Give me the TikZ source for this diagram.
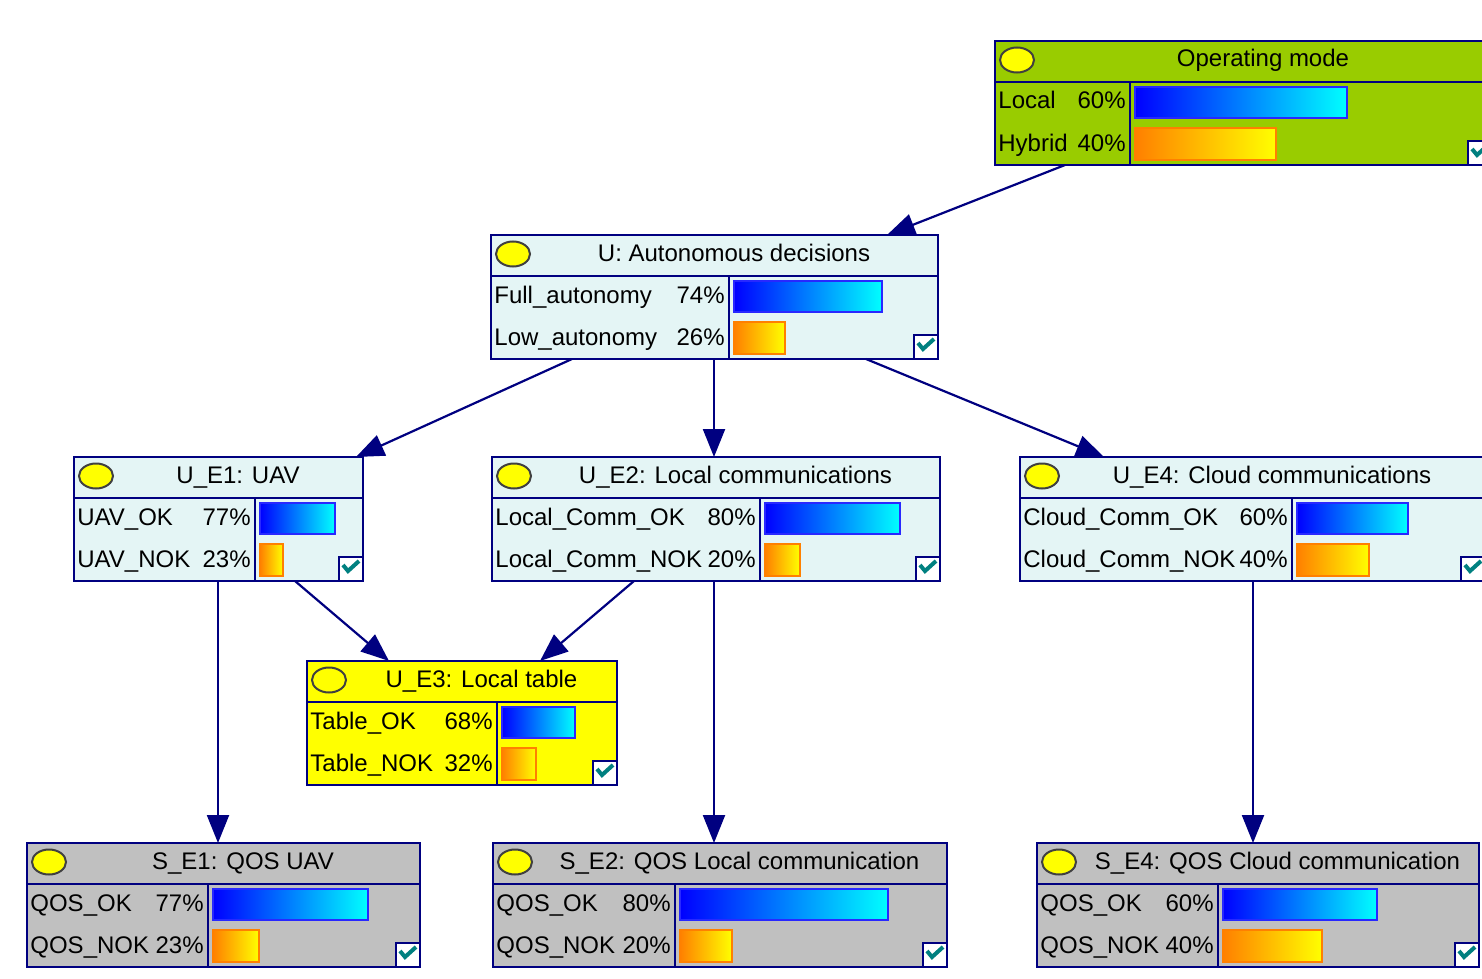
\documentclass[tikz,border=0pt]{standalone}
\usepackage{fontspec}
\setmainfont{Liberation Sans}
\usetikzlibrary{arrows.meta,fit,calc}
\definecolor{bnnavy}{RGB}{0,0,128}
\definecolor{bncyan}{RGB}{228,245,245}
\definecolor{bngray}{RGB}{192,192,192}
\definecolor{bngreen}{RGB}{153,204,0}
\definecolor{bnyellow}{RGB}{255,255,0}
\definecolor{bnteal}{RGB}{0,128,128}
\definecolor{bnorange}{RGB}{255,128,0}
\definecolor{bnblueedge}{RGB}{40,40,255}
\tikzset{
 bnbox/.style={draw=bnnavy, line width=1.2pt, inner sep=0pt, outer sep=0pt},
 bninner/.style={draw=bnnavy, line width=0.8pt},
 bnoval/.style={fill=bnyellow, draw=black!75, line width=1pt},
 bntext/.style={font=\fontsize{12}{14}\selectfont, inner sep=0pt, text=black},
 bntitle/.style={bntext, anchor=base},
 bnstate/.style={bntext, anchor=base west},
 bnpct/.style={bntext, anchor=base east},
 bnbarA/.style={left color=blue, right color=cyan, draw=bnblueedge, line width=0.6pt},
 bnbarB/.style={left color=bnorange, right color=yellow, draw=bnorange, line width=0.6pt},
 bncheckbox/.style={fill=white, draw=bnnavy, line width=1pt},
 bncheck/.style={draw=bnteal, line width=2pt},
 bnarrow/.style={draw=bnnavy, line width=1.1pt, -{Triangle[length=14pt,width=11pt]}},
}
% #1 name, #2 x0, #3 y0, #4 x1, #5 fill, #6 column x, #7 title
\newcommand\BNframe[7]{%
  \def\bncur{#1}%
  \node[bnbox, fill=#5, fit={(#2,#3) (#4,#3+124)}] (#1) {};
  \draw[bninner] (#2,#3+41) -- (#4,#3+41);
  \draw[bninner] (#6,#3+41) -- (#6,#3+124);
  \path[bnoval] (#2+22,#3+19) ellipse [x radius=8.5pt, y radius=6.25pt];
  \node[bntitle] (#1-title) at ({(#2+39+#4)/2},#3+26) {#7};
  \draw[bncheckbox] (#4-24,#3+100) rectangle (#4,#3+124);
  \draw[bncheck] (#4-20,#3+108) -- (#4-15,#3+114) -- (#4-4,#3+104);
}
% #1 x0, #2 y0, #3 column x, #4 state1, #5 pct1, #6 bar1 end, #7 state2, #8 pct2, #9 bar2 end
\newcommand\BNrows[9]{%
  \node[bnstate] (\bncur-s1) at (#1+3,#2+68) {#4};
  \node[bnpct] (\bncur-p1) at (#3-4,#2+68) {#5};
  \path[bnbarA] (#3+5,#2+46) rectangle (#6,#2+77);
  \node[bnstate] (\bncur-s2) at (#1+3,#2+110) {#7};
  \node[bnpct] (\bncur-p2) at (#3-4,#2+110) {#8};
  \path[bnbarB] (#3+5,#2+87) rectangle (#9,#2+119);
}
\begin{document}
\begin{tikzpicture}[x=0.5pt,y=-0.5pt]
\useasboundingbox (0,0) rectangle (1482,979);
\fill[white] (0,0) rectangle (1482,979);
\clip (0,0) rectangle (1482,979);

\BNframe{op}{995}{41}{1492}{bngreen}{1130}{Operating mode}
\BNrows{995}{41}{1130}{Local}{60\%}{1347}{Hybrid}{40\%}{1276}

\BNframe{u}{491}{235}{938}{bncyan}{729}{U: Autonomous decisions}
\BNrows{491}{235}{729}{Full\_autonomy}{74\%}{882}{Low\_autonomy}{26\%}{785}

\BNframe{ue1}{74}{457}{363}{bncyan}{255}{U\_E1: UAV}
\BNrows{74}{457}{255}{UAV\_OK}{77\%}{335}{UAV\_NOK}{23\%}{283}

\BNframe{ue2}{492}{457}{940}{bncyan}{760}{U\_E2: Local communications}
\BNrows{492}{457}{760}{Local\_Comm\_OK}{80\%}{900}{Local\_Comm\_NOK}{20\%}{800}

\BNframe{ue4}{1020}{457}{1485}{bncyan}{1292}{U\_E4: Cloud communications}
\BNrows{1020}{457}{1292}{Cloud\_Comm\_OK}{60\%}{1408}{Cloud\_Comm\_NOK}{40\%}{1369}

\BNframe{ue3}{307}{661}{617}{bnyellow}{497}{U\_E3: Local table}
\BNrows{307}{661}{497}{Table\_OK}{68\%}{575}{Table\_NOK}{32\%}{536}

\BNframe{se1}{27}{843}{420}{bngray}{208}{S\_E1: QOS UAV}
\BNrows{27}{843}{208}{QOS\_OK}{77\%}{368}{QOS\_NOK}{23\%}{259}

\BNframe{se2}{493}{843}{947}{bngray}{675}{S\_E2: QOS Local communication}
\BNrows{493}{843}{675}{QOS\_OK}{80\%}{888}{QOS\_NOK}{20\%}{732}

\BNframe{se4}{1037}{843}{1479}{bngray}{1218}{S\_E4: QOS Cloud communication}
\BNrows{1037}{843}{1218}{QOS\_OK}{60\%}{1377}{QOS\_NOK}{40\%}{1322}

\draw[bnarrow] ($(op.south west)+(70,0)$) -- ($(u.north west)+(396,0)$);
\draw[bnarrow] ($(u.south west)+(81,0)$) -- ($(ue1.north west)+(282,0)$);
\draw[bnarrow] ($(u.south west)+(223,0)$) -- ($(ue2.north west)+(222,0)$);
\draw[bnarrow] ($(u.south west)+(375,0)$) -- ($(ue4.north west)+(84,0)$);
\draw[bnarrow] ($(ue1.south west)+(221,0)$) -- ($(ue3.north west)+(82,0)$);
\draw[bnarrow] ($(ue2.south west)+(142,0)$) -- ($(ue3.north west)+(233,0)$);
\draw[bnarrow] ($(ue1.south west)+(144,0)$) -- ($(se1.north west)+(191,0)$);
\draw[bnarrow] ($(ue2.south west)+(222,0)$) -- ($(se2.north west)+(221,0)$);
\draw[bnarrow] ($(ue4.south west)+(233,0)$) -- ($(se4.north west)+(216,0)$);
\end{tikzpicture}
\end{document}
